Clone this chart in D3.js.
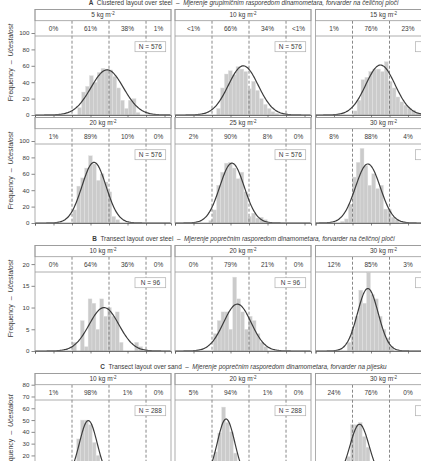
<!DOCTYPE html>
<html><head><meta charset="utf-8">
<script src="https://cdn.jsdelivr.net/npm/d3@7"></script>
<style>
body{margin:0;background:#fff}
svg{display:block}
text{font-family:"Liberation Sans Narrow","Liberation Sans",Arial,sans-serif;fill:#3a3a3a}
</style>
</head><body>
<svg id="c" width="421" height="461"></svg>
<script>
// ---------------- data ----------------
const sectionLetters = ["A", "B", "C"];
const sectionEnglish = ["Clustered layout over steel", "Transect layout over steel", "Transect layout over sand"];
const sectionCroatian = [
  "Mjerenje grupimičnim rasporedom dinamometara, forvarder na čeličnoj ploči",
  "Mjerenje poprečnim rasporedom dinamometara, forvarder na čeličnoj ploči",
  "Mjerenje poprečnim rasporedom dinamometara, forvarder na pijesku"
];
const rowSection = [0, 0, 1, 2];
const rowYMax = [115, 115, 21.7, 80];
const rowYTicks = [[0, 20, 40, 60, 80, 100], [0, 20, 40, 60, 80, 100], [0, 5, 10, 15, 20], [0, 10, 20, 30, 40, 50, 60, 70, 80]];
const xDomain = [0, 7.35];
const xTicks = [0, 1, 2, 3, 4, 5, 6, 7];
const thresholds = [2, 4, 6];
const binWidth = 0.21;
const panelRow = [0, 0, 0, 1, 1, 1, 2, 2, 2, 3, 3, 3];
const panelCol = [0, 1, 2, 0, 1, 2, 0, 1, 2, 0, 1, 2];
const panelLoad = [5, 10, 15, 20, 25, 30, 10, 20, 30, 10, 20, 30];
const panelN = [576, 576, 576, 576, 576, 576, 96, 96, 96, 288, 288, 288];
const panelPct = [
  ["0%", "61%", "38%", "1%"], ["<1%", "66%", "34%", "<1%"], ["1%", "76%", "23%", "0%"],
  ["1%", "89%", "10%", "0%"], ["2%", "90%", "8%", "0%"], ["8%", "88%", "4%", "0%"],
  ["0%", "64%", "36%", "0%"], ["0%", "79%", "21%", "0%"], ["12%", "85%", "3%", "0%"],
  ["1%", "98%", "1%", "0%"], ["5%", "94%", "1%", "0%"], ["24%", "76%", "0%", "0%"]
];
const fitMean = [3.9, 3.69, 3.51, 3.19, 3.08, 2.83, 3.73, 3.37, 2.83, 2.88, 2.76, 2.38];
const fitSD = [0.877, 0.804, 0.791, 0.652, 0.661, 0.670, 0.804, 0.745, 0.559, 0.486, 0.473, 0.519];
const binStart = [2.31, 2.25, 2.04, 2.05, 1.83, 1.36, 2.03, 2.07, 1.71, 1.62, 1.47, 0.84];
const binCounts = [
  [9, 28, 35, 48, 40, 52, 57, 56, 55, 47, 33, 18, 8, 18, 20, 3],
  [8, 33, 50, 54, 49, 59, 56, 53, 32, 41, 30, 20, 13, 8, 4, 2],
  [5, 18, 43, 46, 53, 56, 56, 53, 65, 41, 33, 22, 16, 12, 8, 6, 3, 1],
  [16, 45, 55, 67, 82, 72, 52, 60, 50, 38, 8, 4],
  [3, 16, 46, 62, 73, 74, 67, 54, 62, 38, 8, 12, 6, 7, 4],
  [2, 5, 23, 56, 74, 91, 70, 46, 60, 42, 46, 17, 17, 7, 4],
  [2, 0, 7, 1, 12, 11, 5, 12, 8, 10, 8, 9, 2, 0, 0, 0, 2, 1],
  [4, 7, 9, 9, 5, 17, 12, 9, 5, 8, 7, 4, 2, 1],
  [2, 5, 8, 14, 11, 18, 13, 12, 8, 5, 3, 1],
  [1, 4, 12, 34, 50, 50, 46, 31, 20, 9, 4, 1],
  [2, 6, 15, 23, 39, 61, 48, 40, 22, 10, 4, 1],
  [1, 2, 5, 10, 19, 46, 46, 48, 36, 27, 14, 7, 3]
];

// ---------------- layout ----------------
const W = 421, H = 461;
const colX = [35, 175, 315.5], panelW = 136;
const rowTop = [9.5, 117.5, 245.5, 373.5];
const stripH = 11.2, plotH = 94.3, pctH = 15.3;
const titleY = [5.4, 241.3, 369];
const titleX = 243.5;
const yLabelY = [62.5, 170.5, 298.5, 433];
const border = "#9a9a9a";
const FONT = "'Liberation Sans Narrow','Liberation Sans',Arial,sans-serif";

const svg = d3.select("#c");
const defs = svg.append("defs");

// section titles
sectionLetters.forEach((L, s) => {
  const t = svg.append("text").attr("x", titleX).attr("y", titleY[s])
    .attr("text-anchor", "middle").attr("font-size", 6.4);
  t.append("tspan").attr("font-weight", "bold").text(L);
  t.append("tspan").attr("xml:space", "preserve").text("  " + sectionEnglish[s] + "  \u2013  ");
  t.append("tspan").attr("font-style", "italic").text(sectionCroatian[s]);
});

// row-level y axes & labels
rowTop.forEach((top, r) => {
  const plotTop = top + stripH, base = plotTop + plotH;
  const y = d3.scaleLinear().domain([0, rowYMax[r]]).range([base, plotTop]);
  const visible = rowYTicks[r].filter(v => y(v) < H - 2);
  const ax = d3.axisLeft(y).tickValues(visible).tickSize(3.5).tickPadding(2);
  const g = svg.append("g").attr("transform", `translate(${colX[0]},0)`).call(ax);
  g.select(".domain").remove();
  g.selectAll(".tick line").attr("stroke", "#555").attr("stroke-width", 0.7);
  g.selectAll(".tick text").attr("font-size", 6.2).attr("fill", "#3a3a3a").attr("font-family", FONT);
  const yl = svg.append("text").attr("font-size", 7).attr("text-anchor", "middle")
    .attr("transform", `translate(12.5,${yLabelY[r]}) rotate(-90)`);
  yl.append("tspan").attr("xml:space", "preserve").text("Frequency  \u2013  ");
  yl.append("tspan").attr("font-style", "italic").text("Učestalost");
});

// panels
panelRow.forEach((r, p) => {
  const c = panelCol[p];
  const left = colX[c], right = left + panelW;
  const top = rowTop[r], plotTop = top + stripH, base = plotTop + plotH;
  const x = d3.scaleLinear().domain(xDomain).range([left, right]);
  const y = d3.scaleLinear().domain([0, rowYMax[r]]).range([base, plotTop]);
  const g = svg.append("g");
  const cid = "clip" + p;
  defs.append("clipPath").attr("id", cid).append("rect")
    .attr("x", left).attr("y", plotTop).attr("width", panelW).attr("height", plotH);
  const pg = g.append("g").attr("clip-path", `url(#${cid})`);

  // bars
  const bins = binCounts[p].map((v, i) => ({x0: binStart[p] + i * binWidth, v}));
  pg.selectAll("rect.bar").data(bins).enter().append("rect")
    .attr("x", d => x(d.x0)).attr("width", d => x(d.x0 + binWidth) - x(d.x0))
    .attr("y", d => y(d.v)).attr("height", d => base - y(d.v))
    .attr("fill", "#cbcbcb").attr("stroke", "#e4e4e4").attr("stroke-width", 0.4);

  // threshold dashed lines
  pg.selectAll("line.th").data(thresholds).enter().append("line")
    .attr("x1", d => x(d)).attr("x2", d => x(d)).attr("y1", plotTop).attr("y2", base)
    .attr("stroke", "#6a6a6a").attr("stroke-width", 0.8).attr("stroke-dasharray", "3,2");

  // fitted normal curve
  const mu = fitMean[p], sd = fitSD[p], scale = panelN[p] * binWidth;
  const pts = d3.range(xDomain[0], xDomain[1] + 0.001, 0.04)
    .map(v => [v, scale * Math.exp(-0.5 * ((v - mu) / sd) ** 2) / (sd * Math.sqrt(2 * Math.PI))]);
  pg.append("path").datum(pts)
    .attr("d", d3.line().x(d => x(d[0])).y(d => y(d[1])).curve(d3.curveBasis))
    .attr("fill", "none").attr("stroke", "#3c3c3c").attr("stroke-width", 1.2);

  // percentage row
  const pctBottom = plotTop + pctH;
  g.append("line").attr("x1", left).attr("x2", right).attr("y1", pctBottom).attr("y2", pctBottom)
    .attr("stroke", border).attr("stroke-width", 0.8);
  const bounds = [xDomain[0], ...thresholds, xDomain[1]];
  panelPct[p].forEach((t, i) => {
    const cx = x((bounds[i] + bounds[i + 1]) / 2);
    if (cx > W - 4) return;
    g.append("text").attr("x", cx).attr("y", plotTop + pctH / 2 + 2.2)
      .attr("text-anchor", "middle").attr("font-size", 6.5).text(t);
  });

  // N box
  const bx = left + 100, by = pctBottom + 5.7;
  g.append("rect").attr("x", bx).attr("y", by).attr("width", 30.7).attr("height", 10)
    .attr("fill", "#fff").attr("stroke", "#b0b0b0").attr("stroke-width", 0.7);
  if (bx + 15 < W) {
    g.append("text").attr("x", bx + 15.35).attr("y", by + 7.3).attr("text-anchor", "middle")
      .attr("font-size", 6.5).text("N = " + panelN[p]);
  }

  // strip
  g.append("rect").attr("x", left).attr("y", top).attr("width", panelW).attr("height", stripH)
    .attr("fill", "#fff").attr("stroke", border).attr("stroke-width", 0.8);
  const st = g.append("text").attr("x", (left + right) / 2).attr("y", top + stripH / 2 + 2.3)
    .attr("text-anchor", "middle").attr("font-size", 6.5);
  st.append("tspan").text(panelLoad[p] + " kg m");
  st.append("tspan").attr("dy", -2.5).attr("font-size", 4.5).text("-2");

  // panel border
  g.append("rect").attr("x", left).attr("y", top).attr("width", panelW).attr("height", base - top)
    .attr("fill", "none").attr("stroke", border).attr("stroke-width", 0.8);

  // x axis ticks
  const xa = d3.axisBottom(x).tickValues(xTicks).tickSize(2.5).tickFormat("");
  const xg = g.append("g").attr("transform", `translate(0,${base})`).call(xa);
  xg.select(".domain").attr("stroke", "#555").attr("stroke-width", 0.8);
  xg.selectAll(".tick line").attr("stroke", "#555").attr("stroke-width", 0.7);
});
</script>
</body></html>
